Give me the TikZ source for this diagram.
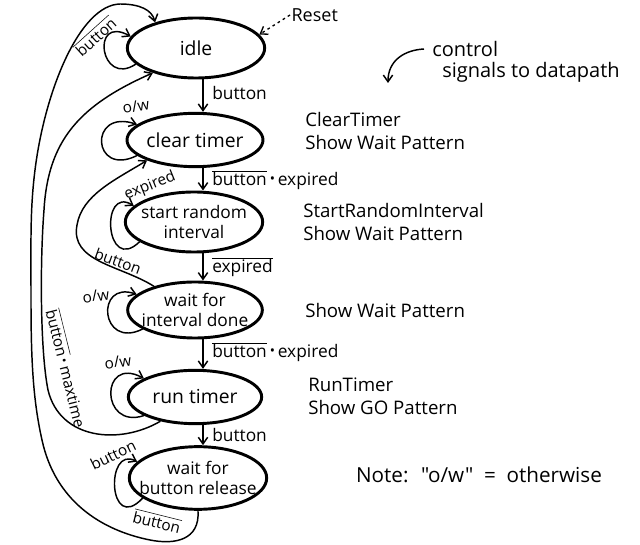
\documentclass[tikz,border=0pt]{standalone}
\usepackage{fontspec}
\usepackage{graphicx}
\setmainfont{Open Sans}
\usetikzlibrary{shapes.geometric,arrows.meta}
\newcommand{\ovl}[1]{$\overline{\hbox{#1}}$}
\newcommand{\andd}{\,\raisebox{0.2ex}{\scalebox{0.8}{•}}\,}
\newcommand{\sq}[1]{{\addfontfeatures{Ligatures=TeXOff}"#1"}}
\begin{document}
\begin{tikzpicture}[x=0.75pt,y=-0.75pt,
 state/.style={ellipse,draw,line width=2.2pt,inner xsep=-60pt,inner ysep=-40pt,align=center,font=\fontsize{14.5}{16}\selectfont},
 state2/.style={state,font=\fontsize{13}{15}\selectfont},
 edge/.style={line width=1.1pt,-{Straight Barb[length=5pt,width=7pt]}},
 lbl/.style={font=\fontsize{13}{15}\selectfont,inner sep=0pt},
 slbl/.style={font=\fontsize{11.5}{13}\selectfont,inner sep=0pt},
 act/.style={font=\fontsize{14}{17}\selectfont,align=left,anchor=west,inner sep=0pt}]
\useasboundingbox (0,0) rectangle (640,545);

% states
\node[state,minimum width=103pt,minimum height=45pt] (idle) at (196,48) {idle};
\node[state,minimum width=102pt,minimum height=40pt] (ct) at (195,140) {clear timer};
\node[state2,minimum width=103pt,minimum height=45pt] (sri) at (194,222) {start random\\interval};
\node[state2,minimum width=101pt,minimum height=42pt] (wid) at (195,310) {wait for\\interval done};
\node[state,minimum width=100pt,minimum height=40pt] (run) at (195,397) {run timer};
\node[state2,minimum width=103pt,minimum height=47pt] (wbr) at (198,478) {wait for\\button release};

% vertical transitions
\coordinate (vx) at (203,0);
\draw[edge] (idle.south -| vx) -- (ct.north -| vx);
\draw[edge] (ct.south -| vx) -- (sri.north -| vx);
\draw[edge] (sri.south -| vx) -- (wid.north -| vx);
\draw[edge] (wid.south -| vx) -- (run.north -| vx);
\draw[edge] (run.south -| vx) -- (wbr.north -| vx);
\node[lbl,anchor=west] (l1) at (212,93) {button};
\node[lbl,anchor=west] (l2) at (212,180) {\ovl{button}\andd expired};
\node[lbl,anchor=west] (l3) at (212,267) {\ovl{expired}};
\node[lbl,anchor=west] (l4) at (212,352) {\ovl{button}\andd expired};
\node[lbl,anchor=west] (l5) at (212,435) {button};

% self loops
\draw[edge] (idle.195) .. controls (100,88) and (90,14) .. (idle.170);
\node[slbl,rotate=42] (lidle) at (95,36) {\ovl{button}};
\draw[edge] (ct.195) .. controls (92,178) and (88,108) .. (ct.165);
\node[slbl,rotate=10] (lct) at (136,106) {o/w};
\draw[edge] (sri.200) .. controls (105,275) and (100,185) .. (sri.165);
\node[slbl,rotate=22] (lsri) at (150,186) {expired};
\draw[edge] (wid.200) .. controls (100,350) and (95,280) .. (wid.165);
\node[slbl,rotate=8] (lwid) at (96,296) {o/w};
\draw[edge] (run.200) .. controls (100,430) and (100,355) .. (run.160);
\node[slbl,rotate=8] (lrun) at (118,362) {o/w};
\draw[edge] (wbr.200) .. controls (108,535) and (105,445) .. (wbr.165);
\node[slbl,rotate=26] (lwbr) at (113,455) {button};

% long back transitions
\draw[edge] (wid.150) .. controls (120,265) and (70,262) .. (77,225)
  .. controls (82,195) and (115,180) .. (ct.203);
\node[slbl,rotate=-20] (lc) at (118,261) {button};

\draw[edge] (run.215) .. controls (120,445) and (60,440) .. (48,390)
  .. controls (40,350) and (40,260) .. (44,210)
  .. controls (48,140) and (80,105) .. (idle.210);
\node[slbl,rotate=-76] (lb) at (67,368) {\ovl{button}\andd maxtime};

\draw[edge] (wbr.south) .. controls (200,540) and (175,545) .. (150,540)
  .. controls (100,530) and (55,500) .. (42,440)
  .. controls (33,400) and (31,360) .. (31,300)
  .. controls (31,240) and (30,210) .. (35,170)
  .. controls (45,90) and (80,5) .. (120,4)
  .. controls (140,4) and (152,10) .. (idle.148);
\node[slbl,rotate=-14] (la) at (157,521) {\ovl{button}};

% reset
\node[font=\fontsize{13.5}{15}\selectfont,inner sep=1pt,anchor=west] (reset) at (290,15) {Reset};
\draw[line width=1pt,dash pattern=on 2pt off 2.5pt,-{Straight Barb[length=5pt,width=7pt]}] (reset.west) -- (idle.12);

% control signals note
\node[act,font=\fontsize{15}{17}\selectfont] (ctl) at (432,49) {control};
\node[act,font=\fontsize{15}{17}\selectfont] (sig) at (442,72) {signals to datapath};
\coordinate (ctltip) at (388,83);
\draw[edge] ([xshift=-6pt]ctl.west) .. controls (405,50) and (388,60) .. (ctltip);

% actions
\node[act] (a1) at (305,131) {ClearTimer\\Show Wait Pattern};
\node[act] (a2) at (303,222) {StartRandomInterval\\Show Wait Pattern};
\node[act] (a3) at (305,311) {Show Wait Pattern};
\node[act] (a4) at (308,396) {RunTimer\\Show GO Pattern};
\node[act,anchor=center,font=\fontsize{15.5}{17}\selectfont] (note) at (479,475) {Note:~ \sq{o/w} ~=~ otherwise};
\end{tikzpicture}
\end{document}
